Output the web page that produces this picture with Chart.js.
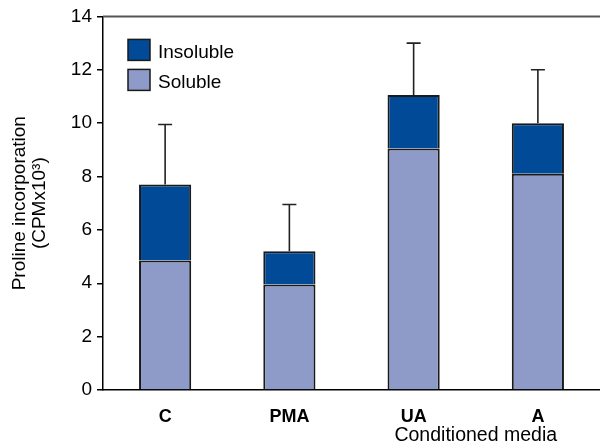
<!DOCTYPE html>
<html>
<head>
<meta charset="utf-8">
<script src="https://cdn.jsdelivr.net/npm/chart.js@4"></script>
<style>
  html, body { margin: 0; padding: 0; background: #fff; }
  #wrap { width: 600px; height: 447px; }
</style>
</head>
<body>
<div id="wrap"><canvas id="prolineChart" width="600" height="447"></canvas></div>
<script>
// Conditioned media groups
const categories = ['C', 'PMA', 'UA', 'A'];
// Proline incorporation (CPM x 10^3)
const soluble = [4.85, 3.95, 9.05, 8.1];
const insoluble = [2.85, 1.25, 2.0, 1.9];
// Upper error (added on top of the stacked total)
const errors = [2.25, 1.75, 1.95, 2.0];
const yTicks = [0, 2, 4, 6, 8, 10, 12, 14];

const FONT = '"Liberation Sans", Arial, Helvetica, sans-serif';
const DARK = '#004a97';
const LIGHT = '#8e9bc9';
const EDGE = '#1a1a1a';

// Upward-only error bars above each stack
const errorBars = {
  id: 'errorBars',
  afterDatasetsDraw(chart) {
    const ctx = chart.ctx;
    const yScale = chart.scales.y;
    const top = chart.getDatasetMeta(1);
    ctx.save();
    ctx.strokeStyle = '#222';
    ctx.lineWidth = 1.6;
    top.data.forEach((bar, i) => {
      const total = soluble[i] + insoluble[i];
      const yEnd = yScale.getPixelForValue(total + errors[i]);
      ctx.beginPath();
      ctx.moveTo(bar.x, bar.y);
      ctx.lineTo(bar.x, yEnd);
      ctx.moveTo(bar.x - 7, yEnd);
      ctx.lineTo(bar.x + 7, yEnd);
      ctx.stroke();
    });
    ctx.restore();
  }
};

// Frame line along the top, legend inside the plot, x title under UA/A
const decorations = {
  id: 'decorations',
  afterDraw(chart) {
    const ctx = chart.ctx;
    const area = chart.chartArea;
    ctx.save();
    ctx.strokeStyle = '#555';
    ctx.lineWidth = 2;
    ctx.beginPath();
    ctx.moveTo(area.left, area.top);
    ctx.lineTo(chart.width, area.top);
    ctx.stroke();

    // legend, top entry is the upper stack segment
    const items = [chart.data.datasets[1], chart.data.datasets[0]];
    ctx.font = '19px ' + FONT;
    ctx.textBaseline = 'middle';
    items.forEach((ds, k) => {
      const bx = area.left + 25;
      const by = area.top + 23 + k * 30;
      ctx.fillStyle = ds.backgroundColor;
      ctx.fillRect(bx, by, 22, 21);
      ctx.strokeStyle = EDGE;
      ctx.lineWidth = 1.5;
      ctx.strokeRect(bx, by, 22, 21);
      ctx.fillStyle = '#000';
      ctx.textAlign = 'left';
      ctx.fillText(ds.label, bx + 30, by + 13);
    });

    const xScale = chart.scales.x;
    const cx = (xScale.getPixelForValue(2) + xScale.getPixelForValue(3)) / 2;
    ctx.textAlign = 'center';
    ctx.font = '19.5px ' + FONT;
    ctx.fillText('Conditioned media', cx, 436);
    ctx.restore();
  }
};

new Chart(document.getElementById('prolineChart'), {
  type: 'bar',
  data: {
    labels: categories,
    datasets: [
      {
        label: 'Soluble',
        data: soluble,
        backgroundColor: LIGHT,
        borderColor: EDGE,
        borderWidth: 2,
        barPercentage: 0.42,
        categoryPercentage: 1
      },
      {
        label: 'Insoluble',
        data: insoluble,
        backgroundColor: DARK,
        borderColor: EDGE,
        borderWidth: 2,
        barPercentage: 0.42,
        categoryPercentage: 1
      }
    ]
  },
  options: {
    responsive: false,
    animation: false,
    layout: { padding: { top: 14, right: 0, left: 0, bottom: 0 } },
    plugins: {
      legend: { display: false },
      tooltip: { enabled: false }
    },
    scales: {
      x: {
        stacked: true,
        grid: { display: false },
        border: { display: true, color: '#000', width: 1.5 },
        ticks: {
          color: '#000',
          padding: 8,
          font: { family: FONT, size: 18, weight: 'bold' }
        },
        afterFit(scale) { scale.height = 57; }
      },
      y: {
        stacked: true,
        min: 0,
        max: 14,
        afterBuildTicks(scale) {
          scale.ticks = yTicks.map(v => ({ value: v }));
        },
        grid: { drawOnChartArea: false, drawTicks: true, tickLength: 6, color: '#000', lineWidth: 1.5 },
        border: { display: true, color: '#000', width: 1.5 },
        ticks: {
          color: '#000',
          padding: 5,
          font: { family: FONT, size: 19 }
        },
        title: {
          display: true,
          text: ['Proline incorporation', '(CPMx10³)'],
          color: '#000',
          padding: { top: 10, bottom: 0 },
          font: { family: FONT, size: 19, lineHeight: 1.05 }
        },
        afterFit(scale) { scale.width = 103; }
      }
    }
  },
  plugins: [errorBars, decorations]
});
</script>
</body>
</html>
